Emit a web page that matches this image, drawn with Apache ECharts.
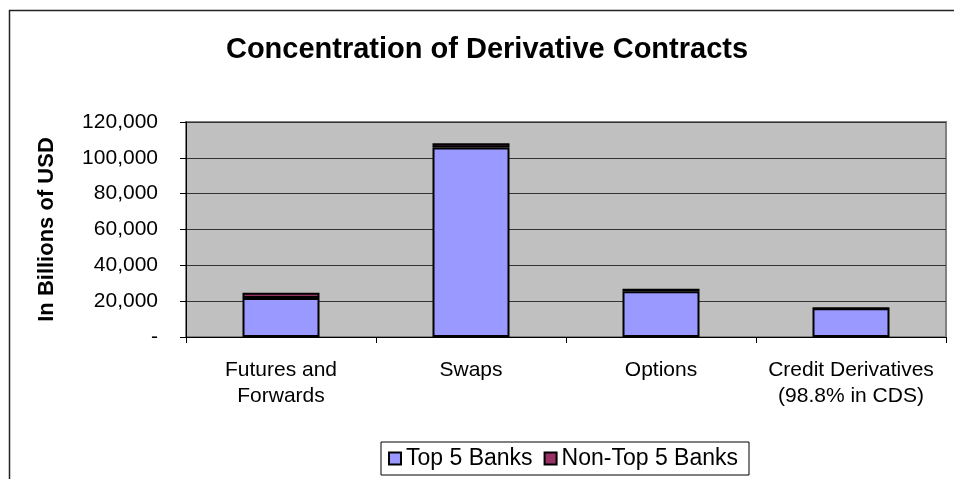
<!DOCTYPE html>
<html>
<head>
<meta charset="utf-8">
<script src="https://cdn.jsdelivr.net/npm/echarts@6/dist/echarts.min.js"></script>
<style>
html,body{margin:0;padding:0;background:#fff;}
#chart{width:954px;height:479px;}
</style>
</head>
<body>
<div id="chart"></div>
<script>
const categories = ['Futures and\nForwards', 'Swaps', 'Options', 'Credit Derivatives\n(98.8% in CDS)'];
const top5Banks = [21800, 105800, 25600, 16000];
const nonTop5Banks = [2900, 2400, 1400, 150];
const seriesNames = ['Top 5 Banks', 'Non-Top 5 Banks'];
const yTicks = [0, 20000, 40000, 60000, 80000, 100000, 120000];

const FONT = "'Liberation Sans', Arial, sans-serif";
const chart = echarts.init(document.getElementById('chart'), null, {renderer: 'canvas'});
chart.setOption({
  backgroundColor: '#fff',
  animation: false,
  title: {
    text: 'Concentration of Derivative Contracts',
    left: 482,
    textAlign: 'center',
    top: 30,
    textStyle: {fontFamily: FONT, fontSize: 29, fontWeight: 'bold', color: '#000'}
  },
  graphic: [{
    type: 'rect',
    shape: {x: 9.5, y: 10.5, width: 1000, height: 600},
    style: {fill: null, stroke: '#222', lineWidth: 1.5},
    silent: true
  }],
  legend: {
    left: 381,
    top: 442,
    orient: 'horizontal',
    padding: [5, 11, 5, 7],
    itemGap: 11,
    itemWidth: 12,
    itemHeight: 12,
    borderColor: '#000',
    borderWidth: 1,
    icon: 'rect',
    textStyle: {fontFamily: FONT, fontSize: 23, color: '#000'},
    data: seriesNames
  },
  grid: {
    left: 186, right: 8, top: 122, bottom: 142,
    show: true,
    backgroundColor: '#C0C0C0',
    borderColor: '#808080',
    borderWidth: 2
  },
  xAxis: {
    type: 'category',
    data: categories,
    axisLine: {lineStyle: {color: '#000', width: 1}},
    axisTick: {show: true, length: 6, lineStyle: {color: '#000'}},
    axisLabel: {fontFamily: FONT, fontSize: 21, color: '#000', margin: 20, lineHeight: 26, interval: 0}
  },
  yAxis: {
    type: 'value',
    min: yTicks[0],
    max: yTicks[yTicks.length - 1],
    interval: yTicks[1] - yTicks[0],
    name: 'In Billions of USD',
    nameLocation: 'middle',
    nameRotate: 90,
    nameGap: 128,
    nameTextStyle: {fontFamily: FONT, fontSize: 22, fontWeight: 'bold', color: '#000'},
    axisLine: {show: true, lineStyle: {color: '#000', width: 1}},
    axisTick: {show: true, length: 6, lineStyle: {color: '#000'}},
    splitLine: {show: true, lineStyle: {color: '#333', width: 1}},
    axisLabel: {
      fontFamily: FONT, fontSize: 21, color: '#000', margin: 28,
      formatter: v => v === 0 ? '-' : v.toLocaleString('en-US')
    }
  },
  series: [
    {
      name: seriesNames[0], type: 'bar', stack: 'total', data: top5Banks, barWidth: 77,
      itemStyle: {color: '#9999FF', borderColor: '#000', borderWidth: 2}
    },
    {
      name: seriesNames[1], type: 'bar', stack: 'total', data: nonTop5Banks, barWidth: 77,
      itemStyle: {color: '#993366', borderColor: '#000', borderWidth: 2}
    }
  ]
});
</script>
</body>
</html>
